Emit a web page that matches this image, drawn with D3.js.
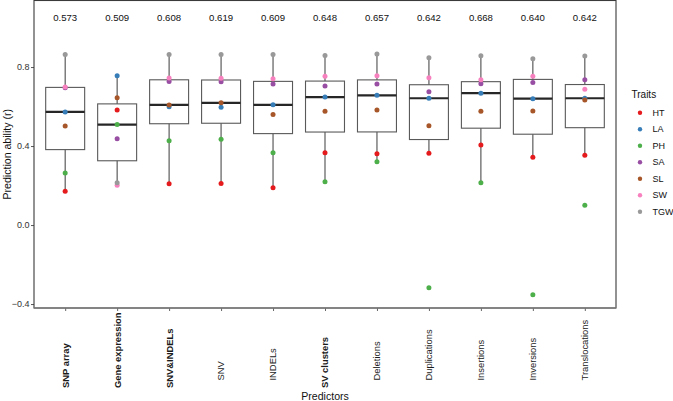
<!DOCTYPE html>
<html>
<head>
<meta charset="utf-8">
<script src="https://cdn.jsdelivr.net/npm/d3@7"></script>
<style>
  body { margin: 0; background: #fff; }
  text { font-family: "Liberation Sans", Arial, Helvetica, sans-serif; }
</style>
</head>
<body>
<svg width="673" height="401"></svg>
<script>
const predictors = ["SNP array", "Gene expression", "SNV&INDELs", "SNV", "INDELs", "SV clusters",
    "Deletions", "Duplications", "Insertions", "Inversions", "Translocations"];
const boldPredictors = ["SNP array", "Gene expression", "SNV&INDELs", "SV clusters"];
const traits = ["HT", "LA", "PH", "SA", "SL", "SW", "TGW"];
const traitColors = ["#E41A1C", "#377EB8", "#4DAF4A", "#984EA3", "#A65628", "#F781BF", "#999999"];

// prediction ability per trait, one value per predictor
const HT  = [0.171, 0.582, 0.209, 0.211, 0.189, 0.366, 0.361, 0.363, 0.405, 0.343, 0.353];
const LA  = [0.573, 0.756, 0.599, 0.597, 0.609, 0.648, 0.657, 0.642, 0.668, 0.640, 0.642];
const PH  = [0.263, 0.509, 0.427, 0.434, 0.366, 0.219, 0.321, -0.317, 0.214, -0.353, 0.100];
const SA  = [0.695, 0.437, 0.727, 0.726, 0.714, 0.704, 0.714, 0.675, 0.716, 0.722, 0.736];
const SL  = [0.501, 0.645, 0.608, 0.619, 0.560, 0.576, 0.582, 0.503, 0.576, 0.577, 0.633];
const SW  = [0.699, 0.201, 0.744, 0.743, 0.741, 0.754, 0.756, 0.746, 0.736, 0.753, 0.687];
const TGW = [0.864, 0.214, 0.864, 0.864, 0.864, 0.859, 0.866, 0.847, 0.857, 0.842, 0.856];
const yTicks = [-0.4, 0.0, 0.4, 0.8];

const series = [HT, LA, PH, SA, SL, SW, TGW];

const svg = d3.select("svg");
const pLeft = 34, pRight = 616, pTop = 0.5, pBottom = 308;

const x = d3.scalePoint().domain(predictors).range([pLeft, pRight]).padding(0.6);
const y = d3.scaleLinear().domain([-0.42, 1.137]).range([pBottom, pTop]);
const color = d3.scaleOrdinal().domain(traits).range(traitColors);
const boxW = x.step() * 0.75;

// per predictor stats (ggplot style, type 7 quantiles)
const stats = predictors.map((p, i) => {
    const vals = series.map(s => s[i]).sort(d3.ascending);
    const q1 = d3.quantile(vals, 0.25), med = d3.quantile(vals, 0.5), q3 = d3.quantile(vals, 0.75);
    const iqr = q3 - q1;
    const inside = vals.filter(v => v >= q1 - 1.5 * iqr && v <= q3 + 1.5 * iqr);
    return { p, q1, med, q3, lo: d3.min(inside), hi: d3.max(inside) };
});

// axes
const yAxis = svg.append("g")
    .attr("transform", `translate(${pLeft},0)`)
    .call(d3.axisLeft(y).tickValues(yTicks).tickSize(3).tickFormat(d3.format(".1f")));
yAxis.select(".domain").remove();
yAxis.selectAll("line").attr("stroke", "#555");
yAxis.selectAll("text").attr("font-size", 9).attr("fill", "#333").attr("x", -4.5);

const xAxis = svg.append("g")
    .attr("transform", `translate(0,${pBottom})`)
    .call(d3.axisBottom(x).tickSize(3).tickFormat(""));
xAxis.select(".domain").remove();
xAxis.selectAll("line").attr("stroke", "#666");

// rotated predictor labels
svg.append("g").selectAll("text")
    .data(predictors)
    .join("text")
    .attr("transform", d => `translate(${x(d) + 3.4},${boldPredictors.includes(d) ? 388 : 380.5}) rotate(-90)`)
    .attr("text-anchor", "start")
    .attr("font-size", 9.4)
    .attr("font-weight", d => boldPredictors.includes(d) ? "bold" : "normal")
    .attr("fill", "#1a1a1a")
    .text(d => d);

// boxes
const g = svg.append("g").selectAll("g").data(stats).join("g");
g.append("line")
    .attr("x1", d => x(d.p)).attr("x2", d => x(d.p))
    .attr("y1", d => y(d.hi)).attr("y2", d => y(d.lo))
    .attr("stroke", "#4d4d4d").attr("stroke-width", 1.1);
g.append("rect")
    .attr("x", d => x(d.p) - boxW / 2)
    .attr("width", boxW)
    .attr("y", d => y(d.q3))
    .attr("height", d => y(d.q1) - y(d.q3))
    .attr("fill", "#fff")
    .attr("stroke", "#595959").attr("stroke-width", 1.1);
g.append("line")
    .attr("x1", d => x(d.p) - boxW / 2).attr("x2", d => x(d.p) + boxW / 2)
    .attr("y1", d => y(d.med)).attr("y2", d => y(d.med))
    .attr("stroke", "#262626").attr("stroke-width", 2.2);

// points
traits.forEach((t, k) => {
    svg.append("g").selectAll("circle")
        .data(series[k])
        .join("circle")
        .attr("cx", (d, i) => x(predictors[i]))
        .attr("cy", d => y(d))
        .attr("r", 2.5)
        .attr("fill", color(t));
});

// median labels
svg.append("g").selectAll("text")
    .data(stats)
    .join("text")
    .attr("x", d => x(d.p))
    .attr("y", y(1.052))
    .attr("dy", "0.35em")
    .attr("text-anchor", "middle")
    .attr("font-size", 9.6)
    .attr("fill", "#111")
    .text(d => d3.format(".3f")(d.med));

// panel border
svg.append("rect")
    .attr("x", pLeft).attr("y", pTop)
    .attr("width", pRight - pLeft).attr("height", pBottom - pTop)
    .attr("fill", "none").attr("stroke", "#3a3a3a").attr("stroke-width", 1.1);
svg.append("line")
    .attr("x1", pLeft).attr("x2", pRight).attr("y1", pBottom).attr("y2", pBottom)
    .attr("stroke", "#7f7f7f").attr("stroke-width", 1.4);

// axis titles
svg.append("text")
    .attr("x", (pLeft + pRight) / 2).attr("y", 399.5)
    .attr("text-anchor", "middle").attr("font-size", 10.6).attr("fill", "#111")
    .text("Predictors");
svg.append("text")
    .attr("transform", `translate(10.5,${(pTop + pBottom) / 2}) rotate(-90)`)
    .attr("text-anchor", "middle").attr("font-size", 10.6).attr("fill", "#111")
    .text("Prediction ability (r)");

// legend
const legend = svg.append("g");
legend.append("text")
    .attr("x", 631.5).attr("y", 97.8)
    .attr("font-size", 10).attr("fill", "#111")
    .text("Traits");
const item = legend.selectAll("g.item").data(traits).join("g")
    .attr("class", "item")
    .attr("transform", (d, i) => `translate(640,${112.7 + i * 16.5})`);
item.append("circle").attr("r", 2.2).attr("fill", d => color(d));
item.append("text")
    .attr("x", 12.5).attr("dy", "0.35em")
    .attr("font-size", 9).attr("fill", "#111")
    .text(d => d);
</script>
</body>
</html>
